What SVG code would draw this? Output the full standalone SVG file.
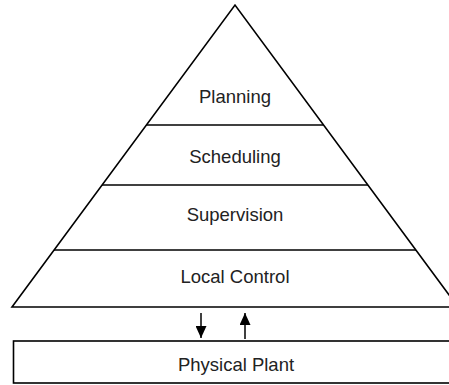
<svg xmlns="http://www.w3.org/2000/svg" width="449" height="385" viewBox="0 0 449 385">
<style>
.ln{fill:none;stroke:#000;stroke-width:1.6}
.lb{font-family:"Liberation Sans",Arial,sans-serif;font-size:18.5px;fill:#222;text-anchor:middle}
.ar{stroke:#000;stroke-width:1.5;fill:none}
</style>
<defs>
<marker id="ah" viewBox="0 0 12 11" refX="12" refY="5.5" markerWidth="12" markerHeight="11" markerUnits="userSpaceOnUse" orient="auto">
<path d="M0,0 L12,5.5 L0,11 Z" fill="#000"/>
</marker>
</defs>
<rect width="449" height="385" fill="#fff"/>
<g id="pyramid">
<path class="ln" d="M12,307 L235,5 L458,307 Z"/>
</g>
<g id="planning">
<text class="lb" x="235" y="103">Planning</text>
</g>
<g id="scheduling">
<line class="ln" x1="146.4" y1="125" x2="323.6" y2="125"/>
<text class="lb" x="235" y="163">Scheduling</text>
</g>
<g id="supervision">
<line class="ln" x1="102" y1="185" x2="368" y2="185"/>
<text class="lb" x="235" y="221">Supervision</text>
</g>
<g id="local-control">
<line class="ln" x1="54" y1="250" x2="416" y2="250"/>
<text class="lb" x="235" y="283">Local Control</text>
</g>
<g id="physical-plant">
<rect class="ln" x="13.5" y="341" width="450" height="42"/>
<text class="lb" x="236" y="371">Physical Plant</text>
</g>
<g id="connectors">
<line class="ar" x1="201" y1="313" x2="201" y2="338" marker-end="url(#ah)"/>
<line class="ar" x1="245" y1="339" x2="245" y2="313" marker-end="url(#ah)"/>
</g>
</svg>
